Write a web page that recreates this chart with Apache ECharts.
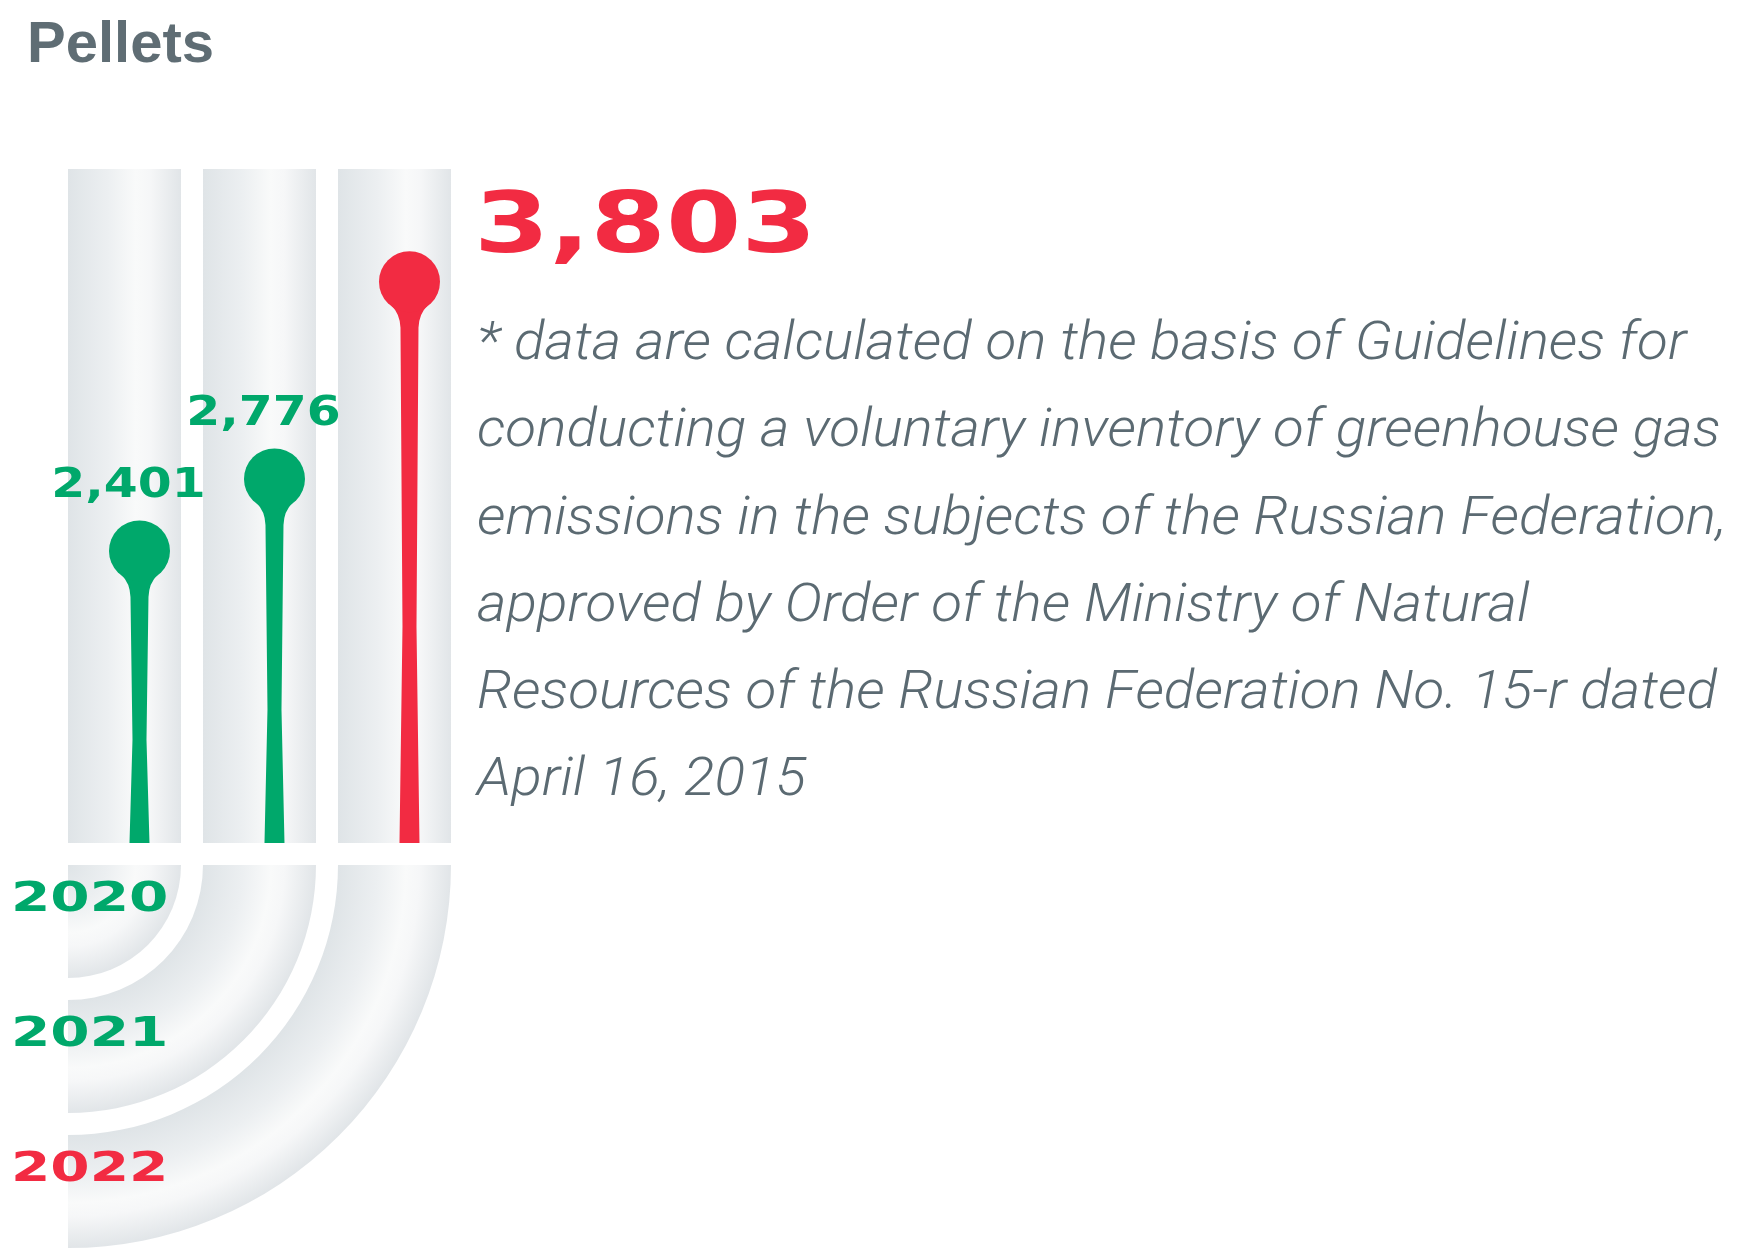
<!DOCTYPE html>
<html>
<head>
<meta charset="utf-8">
<script src="https://cdn.jsdelivr.net/npm/echarts@6/dist/echarts.min.js"></script>
<style>
html,body{margin:0;padding:0;background:#ffffff;}
#main{width:1747px;height:1253px;}
</style>
</head>
<body>
<div id="main"></div>
<script>
// ---- data ----
const chartTitle = 'Pellets';
const years = ['2020', '2021', '2022'];
const values = [2401, 2776, 3803];
const valueLabels = ['2,401', '2,776', '3,803'];
const noteLines = [
  '* data are calculated on the basis of Guidelines for',
  'conducting a voluntary inventory of greenhouse gas',
  'emissions in the subjects of the Russian Federation,',
  'approved by Order of the Ministry of Natural',
  'Resources of the Russian Federation No. 15-r dated',
  'April 16, 2015'
];

// ---- style ----
const GREEN = '#00a86b';
const RED = '#f22b42';
const GREY_TEXT = '#5b6a72';
const Y_MIN = 880, Y_MAX = 4390;
const colStops = [
  {offset: 0, color: '#dfe4e7'},
  {offset: 0.35, color: '#eceff1'},
  {offset: 0.6, color: '#f9fafa'},
  {offset: 0.72, color: '#f6f7f8'},
  {offset: 1, color: '#e1e5e8'}
];
const WIDE = '"DejaVu Sans", sans-serif';

function colorOf(i) { return i === years.length - 1 ? RED : GREEN; }

function renderBackground(params, api) {
  const i = params.dataIndex;
  const bw = api.size([1, 0])[0];
  const gap = bw * 0.163;
  const colW = bw - gap;
  const topP = api.coord([i, Y_MAX]);
  const botP = api.coord([i, Y_MIN]);
  const first = api.coord([0, Y_MIN]);
  const left = topP[0] - colW / 2;
  const arcCx = first[0] - colW / 2;
  const arcCy = botP[1] + gap;
  const r0 = left - arcCx;
  const r1 = r0 + colW;
  const radStops = colStops.map(s => ({offset: (r0 + s.offset * colW) / r1, color: s.color}));
  return {
    type: 'group',
    children: [
      {
        type: 'rect',
        shape: {x: left, y: topP[1], width: colW, height: botP[1] - topP[1]},
        style: {fill: {type: 'linear', x: 0, y: 0, x2: 1, y2: 0, colorStops: colStops}}
      },
      {
        type: 'sector',
        shape: {cx: arcCx, cy: arcCy, r0: r0, r: r1, startAngle: 0, endAngle: Math.PI / 2, clockwise: true},
        style: {fill: {type: 'radial', x: arcCx, y: arcCy, r: r1, global: true, colorStops: radStops}}
      },
      {
        type: 'text',
        x: arcCx - 57,
        y: arcCy + r0 + 35.5,
        scaleX: 1.38,
        style: {
          text: years[i], x: 0, y: 0,
          fontFamily: WIDE, fontWeight: 'bold', fontSize: 41,
          fill: colorOf(i), align: 'left', verticalAlign: 'middle'
        }
      }
    ]
  };
}

function renderPin(params, api) {
  const i = params.dataIndex;
  const v = api.value(1);
  const bw = api.size([1, 0])[0];
  const colW = bw * 0.837;
  const topP = api.coord([i, v]);
  const botP = api.coord([i, Y_MIN]);
  const cx = topP[0] + bw * 0.111;
  const cy = topP[1];
  const by = botP[1];
  const r = 30.5;
  const midY = cy + 46 + (by - cy - 46) * 0.58;
  const d = [
    'M', cx - 18, cy + 24,
    'Q', cx - 9.5, cy + 32, cx - 9, cy + 46,
    'L', cx - 7, midY,
    'L', cx - 10, by,
    'L', cx + 10, by,
    'L', cx + 7, midY,
    'L', cx + 9, cy + 46,
    'Q', cx + 9.5, cy + 32, cx + 18, cy + 24,
    'Z'
  ].join(' ');
  const col = colorOf(i);
  const last = i === years.length - 1;
  const label = last ? {
    type: 'text',
    x: topP[0] + colW / 2 + bw * 0.17,
    y: cy - 52,
    scaleX: 1.29,
    style: {
      text: valueLabels[i], x: 0, y: 0,
      fontFamily: WIDE, fontWeight: 'bold', fontSize: 84,
      fill: col, align: 'left', verticalAlign: 'middle'
    }
  } : {
    type: 'text',
    x: topP[0] + 4,
    y: cy - 64.3,
    scaleX: 1.22,
    style: {
      text: valueLabels[i], x: 0, y: 0,
      fontFamily: WIDE, fontWeight: 'bold', fontSize: 40,
      fill: col, align: 'center', verticalAlign: 'middle'
    }
  };
  return {
    type: 'group',
    children: [
      {type: 'path', shape: {pathData: d}, style: {fill: col}},
      {type: 'circle', shape: {cx: cx, cy: cy, r: r}, style: {fill: col}},
      label
    ]
  };
}

const chart = echarts.init(document.getElementById('main'), null, {renderer: 'canvas'});
chart.setOption({
  backgroundColor: '#ffffff',
  animation: false,
  title: {
    text: chartTitle,
    left: 27, top: 17, padding: 0,
    textStyle: {fontFamily: '"Liberation Sans", Arial, sans-serif', fontWeight: 'bold', fontSize: 58, color: '#5f6d74'}
  },
  grid: {left: 57, width: 405, top: 169, height: 674},
  xAxis: {type: 'category', data: years, show: false},
  yAxis: {type: 'value', min: Y_MIN, max: Y_MAX, show: false},
  graphic: [{
    type: 'text',
    x: 477, y: 302,
    scaleX: 1.05,
    style: {
      text: noteLines.join('\n'),
      x: 0, y: 0,
      fontFamily: 'Roboto, sans-serif', fontStyle: 'italic', fontWeight: 300, fontSize: 54,
      lineHeight: 87.2,
      fill: GREY_TEXT
    }
  }],
  series: [
    {type: 'custom', name: 'columns', renderItem: renderBackground, data: years.map((y, i) => [i, Y_MIN]), silent: true, z: 1},
    {type: 'custom', name: 'pellets', renderItem: renderPin, data: values.map((v, i) => [i, v]), z: 2}
  ]
});
</script>
</body>
</html>
